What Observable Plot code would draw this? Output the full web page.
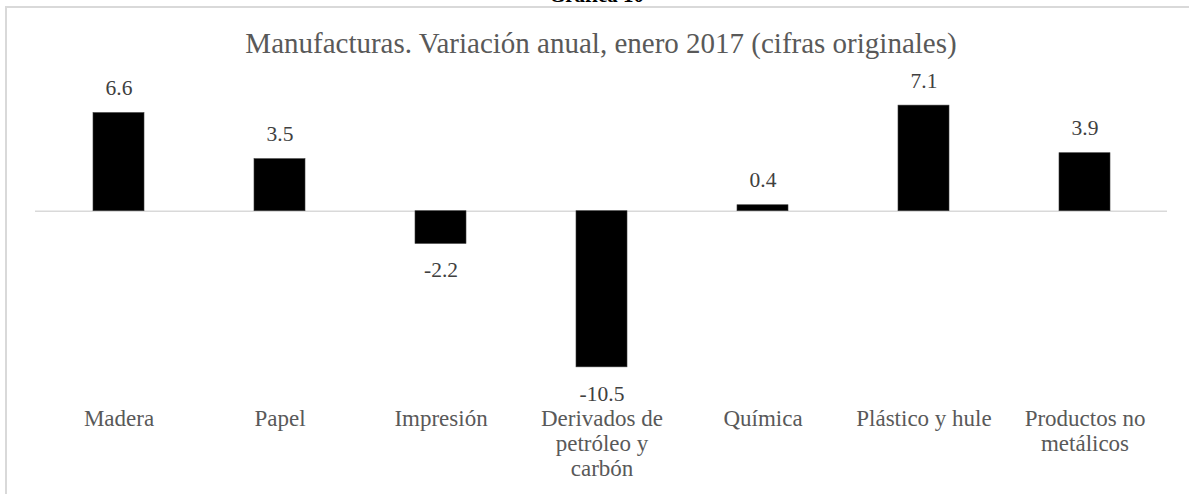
<!DOCTYPE html>
<html>
<head>
<meta charset="utf-8">
<script src="https://cdn.jsdelivr.net/npm/d3@7"></script>
<script src="https://cdn.jsdelivr.net/npm/@observablehq/plot@0.6"></script>
<style>
  html, body { margin: 0; padding: 0; background: #ffffff; }
  #wrap { position: relative; width: 1189px; height: 494px; overflow: hidden; font-family: "Liberation Serif", serif; }
  #frame { position: absolute; left: 5px; top: 6px; width: 1400px; height: 700px; border-left: 2px solid #d9d9d9; border-top: 2px solid #d9d9d9; }
  #chart { position: absolute; left: 0; top: 0; }
  #num { position: absolute; left: 0; top: -15px; width: 1193px; text-align: center; font-size: 21px; line-height: 21px; font-weight: bold; color: #000; white-space: nowrap; }
  #title { position: absolute; left: 35px; top: 28.7px; width: 1132px; text-align: center; font-size: 29px; line-height: 29px; color: #595959; white-space: nowrap; }
</style>
</head>
<body>
<div id="wrap">
  <div id="frame"></div>
  <div id="chart"></div>
  <div id="num">Gráfica 10</div>
  <div id="title">Manufacturas. Variación anual, enero 2017 (cifras originales)</div>
</div>
<script>
const categories = ["Madera", "Papel", "Impresión", "Derivados de petróleo y carbón", "Química", "Plástico y hule", "Productos no metálicos"];
const values = [6.6, 3.5, -2.2, -10.5, 0.4, 7.1, 3.9];
const tickLabels = ["Madera", "Papel", "Impresión", "Derivados de\npetróleo y\ncarbón", "Química", "Plástico y hule", "Productos no\nmetálicos"];

const data = categories.map((c, i) => ({cat: c, value: values[i]}));
const labelOf = new Map(categories.map((c, i) => [c, tickLabels[i]]));
const fmt = v => v.toFixed(1);

const W = 1189, H = 494;
const zeroY = 210.7, k = 14.87;
const yDomain = [-12, 8];

const chart = Plot.plot({
  width: W,
  height: H,
  marginLeft: 35,
  marginRight: 22,
  marginTop: 0,
  marginBottom: 90,
  style: {background: "transparent", fontFamily: "Liberation Serif", overflow: "visible"},
  x: {domain: categories, paddingInner: 0.685, paddingOuter: 0.3425, label: null},
  y: {domain: yDomain, range: [zeroY - yDomain[0] * k, zeroY - yDomain[1] * k], axis: null},
  marks: [
    Plot.ruleY([0], {stroke: "#d9d9d9", strokeWidth: 1.6}),
    Plot.barY(data, {x: "cat", y: "value", fill: "#000000", stroke: "#3a3a3a", strokeWidth: 0.6}),
    Plot.text(data.filter(d => d.value >= 0), {
      x: "cat", y: "value", text: d => fmt(d.value),
      lineAnchor: "bottom", dy: -18, fontSize: 21.5, fill: "#404040", fontFamily: "Liberation Serif"
    }),
    Plot.text(data.filter(d => d.value < 0), {
      x: "cat", y: "value", text: d => fmt(d.value),
      lineAnchor: "top", dy: 18, fontSize: 21.5, fill: "#404040", fontFamily: "Liberation Serif"
    }),
    Plot.axisX({
      tickSize: 0, tickPadding: 4, label: null,
      tickFormat: d => labelOf.get(d),
      fontSize: 23, lineHeight: 1.087, fill: "#595959", fontFamily: "Liberation Serif"
    })
  ]
});
document.getElementById("chart").appendChild(chart);
</script>
</body>
</html>
